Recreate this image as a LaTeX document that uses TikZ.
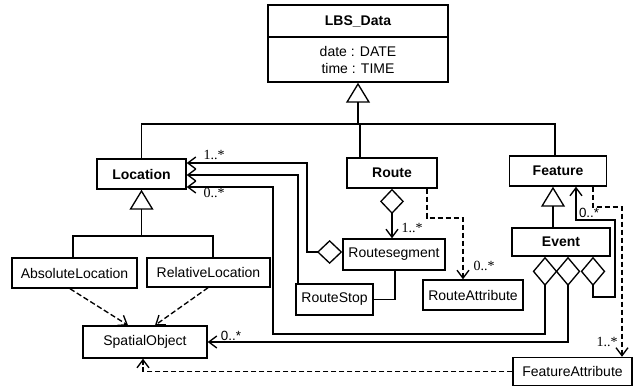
\documentclass[tikz,border=0pt]{standalone}
\usepackage{fontspec}
\setmainfont{Liberation Sans}
\newfontfamily\multfont{Liberation Serif}
\usetikzlibrary{arrows.meta}

\begin{document}
\begin{tikzpicture}[x=0.75pt,y=-0.75pt,
  line width=1pt,
  box/.style={draw, line width=1.1pt, inner sep=0pt, font=\fontsize{10.5}{12.75}\selectfont},
  cls/.style={box, font=\fontsize{10.5}{12.75}\selectfont\bfseries},
  sz/.style 2 args={minimum width=#1*0.75pt, minimum height=#2*0.75pt},
  gen/.style={-{Triangle[open,length=15pt,width=18pt]}},
  nav/.style={-{Straight Barb[length=6pt,width=9pt]}},
  agg/.style={{Diamond[open,length=19pt,width=18pt]}-{Straight Barb[length=6pt,width=9pt]}},
  aggev/.style={{Diamond[open,length=22pt,width=18.5pt]}-{Straight Barb[length=6pt,width=9pt]}},
  dep/.style={dash pattern=on 4pt off 2pt},
  mult/.style={font=\multfont\fontsize{10.5}{11}\selectfont, inner sep=0pt},
  multsf/.style={font=\fontsize{10}{11}\selectfont, inner sep=0pt}
]
\fill[white] (0,0) rectangle (635,389);
\useasboundingbox (0,0) rectangle (635,389);

% classes
\node[box, sz={180}{77}] (lbs) at (358,43.5) {};
\draw[line width=1.1pt] (lbs.west |- 0,37) -- (lbs.east |- 0,37);
\node[font=\fontsize{10.5}{12.75}\selectfont\bfseries, inner sep=0pt] (lbsname) at (358,21) {LBS\_Data};
\node[font=\fontsize{10.5}{12.75}\selectfont, inner sep=0pt, align=center] (lbsattr) at (358,59.5) {date : DATE\\time : TIME};

\node[cls, sz={89}{30}] (loc) at (141.5,174) {Location};
\node[cls, sz={90}{30}] (route) at (392,173) {Route};
\node[cls, sz={97}{30}] (feat) at (558,171) {Feature};
\node[cls, sz={98}{28}] (event) at (561,242) {Event};
\node[box, sz={102}{31}] (rseg) at (394,254.5) {Routesegment};
\node[box, sz={77}{31}] (rstop) at (334.5,299.5) {RouteStop};
\node[box, sz={100}{30}] (rattr) at (473,295) {RouteAttribute};
\node[box, sz={125}{30}] (absloc) at (74.5,273) {AbsoluteLocation};
\node[box, sz={123}{29}] (relloc) at (208.5,272.5) {RelativeLocation};
\node[box, sz={124}{32}] (spat) at (145,342) {SpatialObject};
\node[box, sz={119}{28}] (fattr) at (572.5,371.5) {FeatureAttribute};

% generalization to LBS_Data
\draw (loc.north) |- (555,124) -- (feat.north -| 555,0);
\draw (360,124) -- (route.north -| 360,0);
\draw[gen] (358,124) -- (lbs.south);

% generalization to Location
\draw[gen] (141.5,236) -- (loc.south);
\draw (absloc.north -| 73,0) |- (213,236) -- (relloc.north -| 213,0);

% generalization Event -> Feature
\draw[gen] (event.north -| 553,0) -- (feat.south -| 553,0);

% associations into Location
\draw[agg] (rseg.west |- 0,252) -- (307,252) |- (loc.east |- 0,163);
\draw[nav] (rstop.north -| 298,0) |- (loc.east |- 0,175);
\draw[aggev] (event.south -| 545,0) -- (545,334) -| (273,187) -- (loc.east |- 0,187);
\node[mult] (m1) at (214,155) {1..*};
\node[mult] (m2) at (214,193) {0..*};

% Event -> SpatialObject
\draw[aggev] (event.south -| 568,0) |- (spat.east);
\node[multsf] (m3) at (231,336) {0..*};

% Event -> Feature
\draw[aggev] (event.south -| 593,0) |- (615,297) |- (576,220) -- (feat.south -| 576,0);
\node[multsf] (m4) at (589,213) {0..*};

% Route -> Routesegment
\draw[agg] (route.south) -- (rseg.north -| route.south);
\node[mult] (m5) at (412,228) {1..*};

% Routesegment -- RouteStop
\draw (rseg.south -| 395,0) |- (rstop.east);

% dependencies
\draw[dep, nav] (route.south -| 427,0) |- (463,218) -- (rattr.north -| 463,0);
\node[mult] (m6) at (484,266) {0..*};
\draw[dep, nav] (feat.south -| 593,0) |- (622,207) -- (fattr.north -| 622,0);
\node[mult] (m7) at (607,342) {1..*};
\draw[dep, nav] (fattr.west) -| (spat.south -| 143,0);
\draw[dep, nav] (absloc.south -| 70,0) -- (spat.north -| 128,0);
\draw[dep, nav] (relloc.south -| 208,0) -- (spat.north -| 155,0);
\end{tikzpicture}
\end{document}
